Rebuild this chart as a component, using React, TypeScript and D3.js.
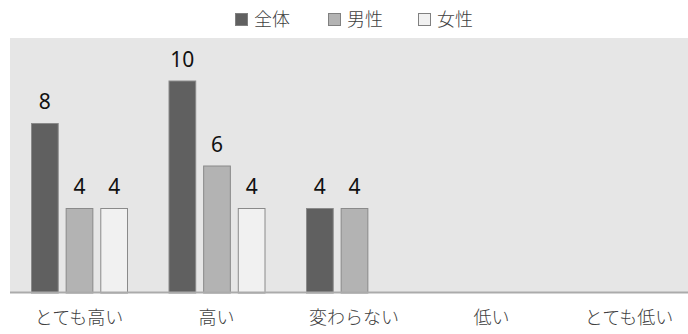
import React from "react";
import * as d3 from "d3";

const categories = ["とても高い", "高い", "変わらない", "低い", "とても低い"];
const seriesNames = ["全体", "男性", "女性"];
const seriesAll = [8, 10, 4, 0, 0];
const seriesMale = [4, 6, 4, 0, 0];
const seriesFemale = [4, 4, 0, 0, 0];
const seriesColors = ["#606060", "#b3b3b3", "#f1f1f1"];

const W = 688;
const H = 334;

export default function App() {
  const values = [seriesAll, seriesMale, seriesFemale];
  const x0 = d3.scaleBand<string>().domain(categories).range([10.25, 697.75]).padding(0);
  const x1 = d3
    .scaleBand<string>()
    .domain(seriesNames)
    .range([20.75, 117.75])
    .paddingInner(0.2)
    .paddingOuter(0);
  const y = d3.scaleLinear().domain([0, 12]).range([293, 38]);

  const font = "'Noto Sans CJK JP', 'Noto Sans', sans-serif";
  const legendX = [235, 328, 418];

  return (
    <svg
      width={W}
      height={H}
      style={{ position: "absolute", left: 0, top: 0, display: "block", background: "#fff" }}
    >
      <rect x={10} y={38} width={W - 10} height={293 - 38} fill="#e6e6e6" />
      {categories.map((c, ci) =>
        seriesNames.map((s, si) => {
          const v = values[si][ci];
          if (!v) return null;
          const bx = (x0(c) as number) + (x1(s) as number);
          const bw = x1.bandwidth();
          return (
            <g key={c + s}>
              <rect
                x={bx + 0.5}
                y={y(v) + 0.5}
                width={bw - 1}
                height={y(0) - y(v) - 0.5}
                fill={seriesColors[si]}
                stroke="#8a8a8a"
                strokeWidth={1}
              />
              <text
                x={bx + bw / 2}
                y={y(v) - 14}
                textAnchor="middle"
                fontFamily="'Noto Sans', sans-serif"
                fontSize={21}
                fill="#111"
              >
                {v}
              </text>
            </g>
          );
        })
      )}
      <line x1={10} x2={W} y1={292.5} y2={292.5} stroke="#ababab" strokeWidth={2} />
      {categories.map((c) => (
        <text
          key={c}
          x={(x0(c) as number) + x0.bandwidth() / 2}
          y={324}
          textAnchor="middle"
          fontFamily={font}
          fontSize={18}
          fontWeight={300}
          fill="#404040"
        >
          {c}
        </text>
      ))}
      {seriesNames.map((s, i) => (
        <g key={s}>
          <rect
            x={legendX[i] + 0.5}
            y={13.5}
            width={12}
            height={12}
            fill={seriesColors[i]}
            stroke="#808080"
            strokeWidth={1}
          />
          <text
            x={legendX[i] + 19}
            y={26}
            fontFamily={font}
            fontSize={18}
            fontWeight={300}
            fill="#404040"
          >
            {s}
          </text>
        </g>
      ))}
    </svg>
  );
}
